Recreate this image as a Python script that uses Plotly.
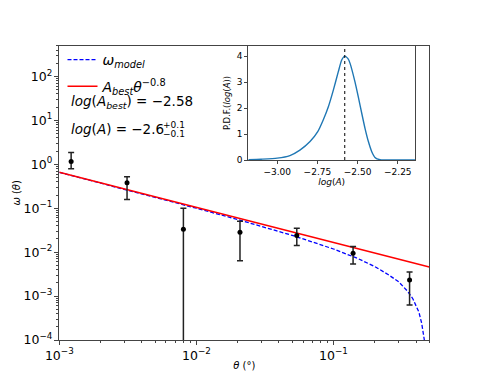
import plotly.graph_objects as go

# angular correlation measurements
theta = [0.00122, 0.00312, 0.00804, 0.0208, 0.054, 0.139, 0.359]
omega = [1.16, 0.378, 0.0333, 0.0284, 0.0238, 0.00946, 0.00233]
err_up = [0.69, 0.14, 0.067, 0.022, 0.011, 0.0039, 0.0012]
err_down = [0.37, 0.22, 0.067, 0.022, 0.0097, 0.0041, 0.0017]

# model curve (power law minus integral constraint)
model_theta = [0.001, 0.002, 0.005, 0.01, 0.02, 0.05, 0.1, 0.15, 0.2, 0.25,
               0.3, 0.35, 0.38, 0.4, 0.42, 0.44, 0.45, 0.46, 0.465]
model_omega = [0.656, 0.375, 0.177, 0.100, 0.0553, 0.0241, 0.0118, 0.0072, 0.0047, 0.0031,
               0.0021, 0.00125, 0.00086, 0.00063, 0.00043, 0.00024, 0.00016, 0.0001, 0.00006]

# best-fit power law
powerlaw_theta = [0.001, 0.5]
powerlaw_omega = [0.661, 0.0046]

# posterior of log(A)
log_a = [-3.18, -3.10, -3.00, -2.921, -2.859, -2.796, -2.748, -2.714, -2.682, -2.651,
         -2.620, -2.599, -2.580, -2.560, -2.547, -2.516, -2.496, -2.474, -2.454, -2.433,
         -2.412, -2.392, -2.361, -2.33, -2.25, -2.143]
pdf = [0.01, 0.03, 0.07, 0.17, 0.38, 0.71, 1.09, 1.54, 2.05, 2.69,
       3.40, 3.85, 4.0, 3.9, 3.72, 3.0, 2.44, 1.79, 1.22, 0.71,
       0.32, 0.10, 0.01, 0.0, 0.0, 0.0]
log_a_best = -2.58

FONT = "DejaVu Sans"
AX = '#444444'

# the page body has an 8px margin, so the figure is drawn a bit smaller
PAGE_OFF = 8
W, H = 477 - PAGE_OFF, 382 - PAGE_OFF


def px(x):
    """ Page pixel x -> paper fraction."""
    return (x - PAGE_OFF) / W


def py(y):
    """ Page pixel y (from top) -> paper fraction."""
    return 1 - (y - PAGE_OFF) / H


fig = go.Figure()

fig.add_trace(go.Scatter(x=model_theta, y=model_omega, mode='lines', legendgroup='model',
                         line=dict(color='blue', dash='4px,2px', width=1.3),
                         name='<i>ω</i><sub><i>model</i></sub>'))
fig.add_trace(go.Scatter(x=powerlaw_theta, y=powerlaw_omega, mode='lines', legendgroup='best',
                         line=dict(color='red', width=1.4),
                         name='<i>A</i><sub><i>best</i></sub><i>θ</i><sup>−0.8</sup>'))
fig.add_trace(go.Scatter(x=theta, y=omega, mode='markers', showlegend=False,
                         marker=dict(color='black', size=5),
                         error_y=dict(type='data', symmetric=False, array=err_up,
                                      arrayminus=err_down, color='#222222',
                                      thickness=1.5, width=3)))

# inset: P.D.F. of log(A)
fig.add_trace(go.Scatter(x=log_a, y=pdf, mode='lines', xaxis='x2', yaxis='y2',
                         showlegend=False, line=dict(color='#1f77b4', width=1.4,
                                                     shape='spline', smoothing=0.6)))
fig.add_shape(type='line', xref='x2', yref='y2 domain', x0=log_a_best, x1=log_a_best,
              y0=0, y1=1, line=dict(color='black', width=1, dash='dot'))

fig.update_layout(
    width=W, height=H,
    margin=dict(l=0, r=0, t=0, b=0, autoexpand=False),
    paper_bgcolor='white', plot_bgcolor='white',
    font=dict(family=FONT, color='black', size=10),
    legend=dict(x=px(62.5), y=py(44), xanchor='left', yanchor='top', traceorder='grouped',
                bgcolor='rgba(0,0,0,0)', font=dict(size=14), tracegroupgap=5.5),
    xaxis=dict(type='log', domain=[px(59.3), px(429.3)], range=[-3, -0.301],
               tickmode='linear', tick0=0, dtick=1, exponentformat='power',
               showline=True, linecolor=AX, mirror=True, showgrid=False, zeroline=False,
               ticks='outside', ticklen=4, tickcolor=AX,
               minor=dict(ticks='outside', ticklen=2, tickcolor=AX, dtick='D1', showgrid=False),
               title=dict(text='<i>θ</i> (°)', font=dict(size=10), standoff=0),
               anchor='y'),
    yaxis=dict(type='log', domain=[py(340), py(45.7)], range=[-4, 2.7],
               tickmode='linear', tick0=0, dtick=1, exponentformat='power',
               labelalias={'1': '10<sup>0</sup>', '10': '10<sup>1</sup>', '100': '10<sup>2</sup>'},
               showline=True, linecolor=AX, mirror=True, showgrid=False, zeroline=False,
               ticks='outside', ticklen=4, tickcolor=AX,
               minor=dict(ticks='outside', ticklen=2, tickcolor=AX, dtick='D1', showgrid=False),
               title=dict(text='<i>ω</i> (<i>θ</i>)', font=dict(size=10), standoff=0),
               anchor='x'),
    xaxis2=dict(domain=[px(248.3), px(415)], range=[-3.18, -2.143], anchor='y2',
                tickvals=[-3.0, -2.75, -2.5, -2.25], tickformat='.2f',
                showline=True, linecolor=AX, mirror=True, showgrid=False, zeroline=False,
                ticks='outside', ticklen=3, tickcolor=AX, tickfont=dict(size=9),
                title=dict(text='<i>log</i>(<i>A</i>)', font=dict(size=9), standoff=2)),
    yaxis2=dict(domain=[py(160), py(45.7)], range=[0, 4.4], anchor='x2',
                tickvals=[0, 1, 2, 3, 4],
                showline=True, linecolor=AX, mirror=True, showgrid=False, zeroline=False,
                ticks='outside', ticklen=3, tickcolor=AX, tickfont=dict(size=9),
                title=dict(text='P.D.F.(<i>log</i>(<i>A</i>))', font=dict(size=8.5), standoff=4)),
)

fig.add_annotation(text='<i>log</i>(<i>A</i><sub><i>best</i></sub>) = −2.58',
                   xref='paper', yref='paper', x=px(69), y=py(102),
                   xanchor='left', yanchor='middle', showarrow=False, font=dict(size=13.5))
fig.add_annotation(text='<i>log</i>(<i>A</i>) = −2.6',
                   xref='paper', yref='paper', x=px(69), y=py(129),
                   xanchor='left', yanchor='middle', showarrow=False, font=dict(size=13.5))
fig.add_annotation(text='+0.1', xref='paper', yref='paper', x=px(161), y=py(125),
                   xanchor='left', yanchor='middle', showarrow=False, font=dict(size=9))
fig.add_annotation(text='−0.1', xref='paper', yref='paper', x=px(161), y=py(134),
                   xanchor='left', yanchor='middle', showarrow=False, font=dict(size=9))

fig.write_html("out.html")
